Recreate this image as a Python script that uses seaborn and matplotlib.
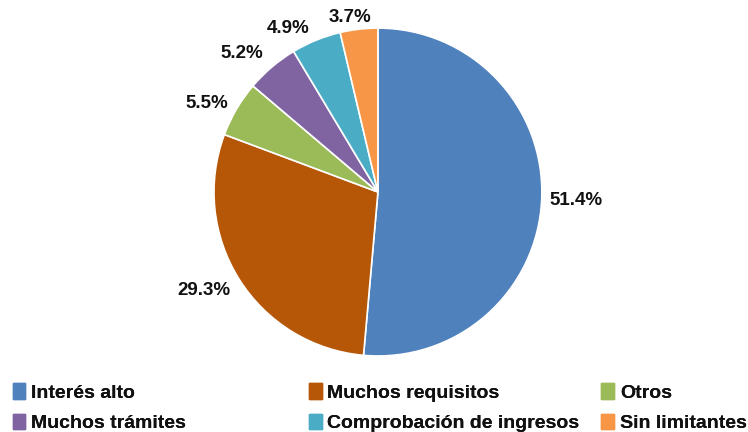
import numpy as np
import matplotlib
matplotlib.use("Agg")
import matplotlib.pyplot as plt
import seaborn as sns
from matplotlib.patches import Patch

sns.set_theme(style="white")
plt.rcParams['font.family'] = ['Liberation Sans', 'DejaVu Sans']

categories = ["Interés alto", "Muchos requisitos", "Otros", "Muchos trámites",
              "Comprobación de ingresos", "Sin limitantes"]
values = [51.4, 29.3, 5.5, 5.2, 4.9, 3.7]
colors = ["#4F81BD", "#B65708", "#9BBB59", "#8064A2", "#4BACC6", "#F79646"]
label_dist = [1.21, 1.22, 1.175, 1.186, 1.14, 1.08]
label_nudge = [0.2, -2.6, 2.9, 4.1, 6.6, 2.4]

fig = plt.figure(figsize=(7.48, 4.32), dpi=100)
ax = fig.add_axes([0.286, 0.176, 0.4385, 0.759])
wedges, texts, autotexts = ax.pie(values, colors=colors, startangle=90, counterclock=False,
                                  autopct="%.1f%%", pctdistance=1.15,
                                  wedgeprops=dict(edgecolor="white", linewidth=1.2),
                                  textprops=dict(fontsize=13.5, fontweight="bold", color="#111111"))
for w, t, d, nd in zip(wedges, autotexts, label_dist, label_nudge):
    ang = np.deg2rad((w.theta1 + w.theta2) / 2 + nd)
    t.set_position((d * np.cos(ang), d * np.sin(ang)))
    t.set_ha("center"); t.set_va("center")
ax.set_aspect("equal")
ax.set_xlim(-1, 1)
ax.set_ylim(-1, 1)

cols = [[0, 3], [1, 4], [2, 5]]
xs = [0.017, 0.413, 0.804]
for xi, idx in zip(xs, cols):
    handles = [Patch(facecolor=colors[i], edgecolor=colors[i], label=categories[i]) for i in idx]
    leg = fig.legend(handles=handles, loc="upper left", bbox_to_anchor=(xi, 0.113),
                     frameon=False, ncol=1, handlelength=0.65, handleheight=0.85,
                     handletextpad=0.3, labelspacing=0.62, borderaxespad=0, borderpad=0,
                     prop=dict(size=14, weight="bold"))
    for tx in leg.get_texts():
        tx.set_color("#111111")
    fig.add_artist(leg)

fig.savefig("out.png", dpi=100)
